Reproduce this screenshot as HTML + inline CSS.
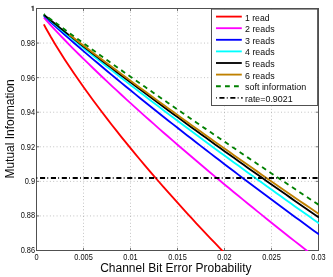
<!DOCTYPE html>
<html><head><meta charset="utf-8"><title>Mutual Information vs Channel Bit Error Probability</title>
<style>html,body{margin:0;padding:0;background:#fff;width:333px;height:277px;overflow:hidden}body{position:relative;font-family:"Liberation Sans",sans-serif}</style></head>
<body>
<svg width="333" height="277" viewBox="0 0 333 277" style="position:absolute;left:0;top:0;will-change:transform;font-family:'Liberation Sans',sans-serif">
<rect width="333" height="277" fill="#fff"/>
<defs><clipPath id="c"><rect x="36.0" y="8.0" width="283.0" height="243.0"/></clipPath></defs>
<path d="M83.50,250.5 V8.5 M130.50,250.5 V8.5 M177.50,250.5 V8.5 M224.50,250.5 V8.5 M271.50,250.5 V8.5 M36.5,215.93 H318.5 M36.5,181.36 H318.5 M36.5,146.79 H318.5 M36.5,112.21 H318.5 M36.5,77.64 H318.5 M36.5,43.07 H318.5" stroke="#a0a0a0" stroke-width="0.7" stroke-dasharray="0.9 2.45" fill="none"/>
<path d="M36.50,250.5 v-2.6 M36.50,8.5 v2.6 M83.50,250.5 v-2.6 M83.50,8.5 v2.6 M130.50,250.5 v-2.6 M130.50,8.5 v2.6 M177.50,250.5 v-2.6 M177.50,8.5 v2.6 M224.50,250.5 v-2.6 M224.50,8.5 v2.6 M271.50,250.5 v-2.6 M271.50,8.5 v2.6 M318.50,250.5 v-2.6 M318.50,8.5 v2.6 M36.5,250.50 h2.6 M318.5,250.50 h-2.6 M36.5,215.93 h2.6 M318.5,215.93 h-2.6 M36.5,181.36 h2.6 M318.5,181.36 h-2.6 M36.5,146.79 h2.6 M318.5,146.79 h-2.6 M36.5,112.21 h2.6 M318.5,112.21 h-2.6 M36.5,77.64 h2.6 M318.5,77.64 h-2.6 M36.5,43.07 h2.6 M318.5,43.07 h-2.6 M36.5,8.50 h2.6 M318.5,8.50 h-2.6" stroke="#505050" stroke-width="0.8" fill="none"/>
<rect x="36.5" y="8.5" width="282.0" height="242.0" fill="none" stroke="#505050" stroke-width="1"/>
<g clip-path="url(#c)" fill="none" stroke-linejoin="round">
<path d="M43.83,24.36 L45.90,28.22 L50.60,36.56 L55.30,44.48 L60.00,52.08 L64.70,59.43 L69.40,66.57 L74.10,73.53 L78.80,80.34 L83.50,87.00 L88.20,93.54 L92.90,99.97 L97.60,106.29 L102.30,112.51 L107.00,118.65 L111.70,124.70 L116.40,130.67 L121.10,136.57 L125.80,142.40 L130.50,148.16 L135.20,153.86 L139.90,159.49 L144.60,165.08 L149.30,170.60 L154.00,176.08 L158.70,181.50 L163.40,186.87 L168.10,192.20 L172.80,197.48 L177.50,202.72 L182.20,207.92 L186.90,213.08 L191.60,218.19 L196.30,223.27 L201.00,228.31 L205.70,233.32 L210.40,238.29 L215.10,243.22 L219.80,248.12 L224.50,252.99 L229.20,257.83 L233.90,262.63 L238.60,267.41 L243.30,272.15 L248.00,276.87 L252.70,281.56 L257.40,286.22 L262.10,290.85 L266.80,295.46 L271.50,300.04 L276.20,304.60 L280.90,309.13 L285.60,313.63 L290.30,318.12 L295.00,322.57 L299.70,327.01 L304.40,331.42 L309.10,335.81 L313.80,340.18 L318.50,344.52 L319.10,345.07" stroke="#ff0000" stroke-width="1.85"/>
<path d="M43.83,17.50 L45.90,19.86 L50.60,25.07 L55.30,30.15 L60.00,35.12 L64.70,40.00 L69.40,44.81 L74.10,49.55 L78.80,54.24 L83.50,58.87 L88.20,63.46 L92.90,68.01 L97.60,72.51 L102.30,76.98 L107.00,81.41 L111.70,85.81 L116.40,90.18 L121.10,94.52 L125.80,98.83 L130.50,103.12 L135.20,107.38 L139.90,111.61 L144.60,115.82 L149.30,120.01 L154.00,124.17 L158.70,128.32 L163.40,132.44 L168.10,136.55 L172.80,140.63 L177.50,144.70 L182.20,148.75 L186.90,152.78 L191.60,156.79 L196.30,160.79 L201.00,164.77 L205.70,168.73 L210.40,172.68 L215.10,176.61 L219.80,180.53 L224.50,184.43 L229.20,188.32 L233.90,192.19 L238.60,196.05 L243.30,199.90 L248.00,203.73 L252.70,207.55 L257.40,211.36 L262.10,215.15 L266.80,218.93 L271.50,222.70 L276.20,226.46 L280.90,230.20 L285.60,233.94 L290.30,237.66 L295.00,241.37 L299.70,245.07 L304.40,248.76 L309.10,252.43 L313.80,256.10 L318.50,259.76 L319.10,260.22" stroke="#ff00ff" stroke-width="1.85"/>
<path d="M43.83,15.73 L45.90,17.68 L50.60,22.04 L55.30,26.33 L60.00,30.56 L64.70,34.74 L69.40,38.88 L74.10,42.99 L78.80,47.06 L83.50,51.11 L88.20,55.12 L92.90,59.11 L97.60,63.08 L102.30,67.02 L107.00,70.95 L111.70,74.85 L116.40,78.74 L121.10,82.61 L125.80,86.46 L130.50,90.29 L135.20,94.11 L139.90,97.91 L144.60,101.70 L149.30,105.47 L154.00,109.23 L158.70,112.97 L163.40,116.71 L168.10,120.43 L172.80,124.13 L177.50,127.83 L182.20,131.51 L186.90,135.18 L191.60,138.84 L196.30,142.49 L201.00,146.13 L205.70,149.76 L210.40,153.38 L215.10,156.98 L219.80,160.58 L224.50,164.17 L229.20,167.75 L233.90,171.31 L238.60,174.87 L243.30,178.42 L248.00,181.96 L252.70,185.50 L257.40,189.02 L262.10,192.53 L266.80,196.04 L271.50,199.53 L276.20,203.02 L280.90,206.50 L285.60,209.98 L290.30,213.44 L295.00,216.90 L299.70,220.34 L304.40,223.79 L309.10,227.22 L313.80,230.64 L318.50,234.06 L319.10,234.50" stroke="#0000ff" stroke-width="1.85"/>
<path d="M43.83,15.05 L45.90,16.84 L50.60,20.86 L55.30,24.83 L60.00,28.76 L64.70,32.66 L69.40,36.52 L74.10,40.37 L78.80,44.18 L83.50,47.98 L88.20,51.75 L92.90,55.51 L97.60,59.25 L102.30,62.97 L107.00,66.67 L111.70,70.37 L116.40,74.04 L121.10,77.71 L125.80,81.36 L130.50,85.00 L135.20,88.62 L139.90,92.23 L144.60,95.84 L149.30,99.43 L154.00,103.01 L158.70,106.58 L163.40,110.14 L168.10,113.69 L172.80,117.23 L177.50,120.76 L182.20,124.28 L186.90,127.79 L191.60,131.30 L196.30,134.79 L201.00,138.28 L205.70,141.75 L210.40,145.22 L215.10,148.68 L219.80,152.14 L224.50,155.58 L229.20,159.02 L233.90,162.45 L238.60,165.87 L243.30,169.28 L248.00,172.69 L252.70,176.09 L257.40,179.48 L262.10,182.87 L266.80,186.25 L271.50,189.62 L276.20,192.99 L280.90,196.34 L285.60,199.70 L290.30,203.04 L295.00,206.38 L299.70,209.71 L304.40,213.04 L309.10,216.36 L313.80,219.67 L318.50,222.98 L319.10,223.40" stroke="#00ffff" stroke-width="1.85"/>
<path d="M43.83,14.72 L45.90,16.43 L50.60,20.28 L55.30,24.09 L60.00,27.87 L64.70,31.62 L69.40,35.35 L74.10,39.05 L78.80,42.74 L83.50,46.40 L88.20,50.05 L92.90,53.69 L97.60,57.31 L102.30,60.92 L107.00,64.51 L111.70,68.09 L116.40,71.66 L121.10,75.22 L125.80,78.76 L130.50,82.30 L135.20,85.82 L139.90,89.34 L144.60,92.84 L149.30,96.34 L154.00,99.82 L158.70,103.30 L163.40,106.77 L168.10,110.23 L172.80,113.68 L177.50,117.12 L182.20,120.56 L186.90,123.99 L191.60,127.41 L196.30,130.82 L201.00,134.22 L205.70,137.62 L210.40,141.01 L215.10,144.39 L219.80,147.77 L224.50,151.14 L229.20,154.50 L233.90,157.85 L238.60,161.20 L243.30,164.54 L248.00,167.88 L252.70,171.21 L257.40,174.53 L262.10,177.85 L266.80,181.16 L271.50,184.46 L276.20,187.76 L280.90,191.05 L285.60,194.34 L290.30,197.62 L295.00,200.90 L299.70,204.16 L304.40,207.43 L309.10,210.69 L313.80,213.94 L318.50,217.19 L319.10,217.60" stroke="#000000" stroke-width="1.85"/>
<path d="M69.21,34.53 L69.40,34.68 L74.10,38.30 L78.80,41.91 L83.50,45.50 L88.20,49.08 L92.90,52.65 L97.60,56.20 L102.30,59.74 L107.00,63.26 L111.70,66.78 L116.40,70.28 L121.10,73.78 L125.80,77.26 L130.50,80.74 L135.20,84.20 L139.90,87.66 L144.60,91.11 L149.30,94.54 L154.00,97.98 L158.70,101.40 L163.40,104.81 L168.10,108.22 L172.80,111.62 L177.50,115.01 L182.20,118.39 L186.90,121.77 L191.60,125.14 L196.30,128.50 L201.00,131.86 L205.70,135.20 L210.40,138.55 L215.10,141.88 L219.80,145.21 L224.50,148.54 L229.20,151.85 L233.90,155.16 L238.60,158.47 L243.30,161.77 L248.00,165.06 L252.70,168.34 L257.40,171.63 L262.10,174.90 L266.80,178.17 L271.50,181.43 L276.20,184.69 L280.90,187.94 L285.60,191.19 L290.30,194.43 L295.00,197.67 L299.70,200.90 L304.40,204.13 L309.10,207.35 L313.80,210.56 L318.50,213.77 L319.10,214.18" stroke="#bf8000" stroke-width="1.85"/>
<path d="M43.83,14.09 L45.90,15.64 L50.60,19.15 L55.30,22.64 L60.00,26.10 L64.70,29.55 L69.40,32.99 L74.10,36.41 L78.80,39.82 L83.50,43.22 L88.20,46.61 L92.90,49.99 L97.60,53.36 L102.30,56.72 L107.00,60.07 L111.70,63.42 L116.40,66.75 L121.10,70.08 L125.80,73.40 L130.50,76.72 L135.20,80.02 L139.90,83.32 L144.60,86.61 L149.30,89.90 L154.00,93.18 L158.70,96.45 L163.40,99.72 L168.10,102.98 L172.80,106.24 L177.50,109.49 L182.20,112.73 L186.90,115.97 L191.60,119.21 L196.30,122.44 L201.00,125.66 L205.70,128.88 L210.40,132.09 L215.10,135.29 L219.80,138.50 L224.50,141.69 L229.20,144.89 L233.90,148.07 L238.60,151.26 L243.30,154.43 L248.00,157.61 L252.70,160.78 L257.40,163.94 L262.10,167.10 L266.80,170.25 L271.50,173.40 L276.20,176.55 L280.90,179.69 L285.60,182.83 L290.30,185.96 L295.00,189.09 L299.70,192.21 L304.40,195.33 L309.10,198.45 L313.80,201.56 L318.50,204.67 L319.10,205.07" stroke="#008000" stroke-width="1.85" stroke-dasharray="4.8 4.2" stroke-dashoffset="3.5"/>
<path d="M36.5,177.98 H319.0" stroke="#000" stroke-width="1.85" stroke-dasharray="5.1 2.3 0.8 2.7" stroke-dashoffset="7.3999999999999995"/>
</g>
<text x="20.63" y="252.60" font-size="9.4" fill="#0a0a0a" textLength="14.42" lengthAdjust="spacingAndGlyphs">0.86</text>
<text x="20.63" y="218.25" font-size="9.4" fill="#0a0a0a" textLength="14.42" lengthAdjust="spacingAndGlyphs">0.88</text>
<text x="24.75" y="183.89" font-size="9.4" fill="#0a0a0a" textLength="10.30" lengthAdjust="spacingAndGlyphs">0.9</text>
<text x="20.63" y="149.54" font-size="9.4" fill="#0a0a0a" textLength="14.42" lengthAdjust="spacingAndGlyphs">0.92</text>
<text x="20.63" y="115.18" font-size="9.4" fill="#0a0a0a" textLength="14.42" lengthAdjust="spacingAndGlyphs">0.94</text>
<text x="20.63" y="80.83" font-size="9.4" fill="#0a0a0a" textLength="14.42" lengthAdjust="spacingAndGlyphs">0.96</text>
<text x="20.63" y="46.47" font-size="9.4" fill="#0a0a0a" textLength="14.42" lengthAdjust="spacingAndGlyphs">0.98</text>
<path d="M33.55,5.8 L33.55,10.9 L32.5,10.9 L32.5,7.35 L31.15,7.35 L31.15,6.65 C32.0,6.65 32.6,6.4 32.8,5.8 Z" fill="#0a0a0a"/>
<text x="34.44" y="260.1" font-size="9.4" fill="#0a0a0a" textLength="4.12" lengthAdjust="spacingAndGlyphs">0</text>
<text x="74.23" y="260.1" font-size="9.4" fill="#0a0a0a" textLength="18.54" lengthAdjust="spacingAndGlyphs">0.005</text>
<text x="123.29" y="260.1" font-size="9.4" fill="#0a0a0a" textLength="14.42" lengthAdjust="spacingAndGlyphs">0.01</text>
<text x="168.23" y="260.1" font-size="9.4" fill="#0a0a0a" textLength="18.54" lengthAdjust="spacingAndGlyphs">0.015</text>
<text x="217.29" y="260.1" font-size="9.4" fill="#0a0a0a" textLength="14.42" lengthAdjust="spacingAndGlyphs">0.02</text>
<text x="262.23" y="260.1" font-size="9.4" fill="#0a0a0a" textLength="18.54" lengthAdjust="spacingAndGlyphs">0.025</text>
<text x="311.29" y="260.1" font-size="9.4" fill="#0a0a0a" textLength="14.42" lengthAdjust="spacingAndGlyphs">0.03</text>
<text x="100.2" y="271.8" font-size="12" fill="#0a0a0a" textLength="151.4" lengthAdjust="spacingAndGlyphs">Channel Bit Error Probability</text>
<text transform="translate(13.5,178.6) rotate(-90)" font-size="12" fill="#0a0a0a" textLength="99.4" lengthAdjust="spacingAndGlyphs">Mutual Information</text>
<rect x="211.5" y="9.1" width="106.10000000000002" height="96.4" fill="#fff" stroke="#505050" stroke-width="1"/>
<path d="M216.0,16.60 H241.8" stroke="#ff0000" stroke-width="1.85"/>
<text x="245.0" y="20.60" font-size="9.3" fill="#0a0a0a" textLength="24.6" lengthAdjust="spacingAndGlyphs">1 read</text>
<path d="M216.0,28.20 H241.8" stroke="#ff00ff" stroke-width="1.85"/>
<text x="245.0" y="32.20" font-size="9.3" fill="#0a0a0a" textLength="29.6" lengthAdjust="spacingAndGlyphs">2 reads</text>
<path d="M216.0,39.80 H241.8" stroke="#0000ff" stroke-width="1.85"/>
<text x="245.0" y="43.80" font-size="9.3" fill="#0a0a0a" textLength="29.6" lengthAdjust="spacingAndGlyphs">3 reads</text>
<path d="M216.0,51.40 H241.8" stroke="#00ffff" stroke-width="1.85"/>
<text x="245.0" y="55.40" font-size="9.3" fill="#0a0a0a" textLength="29.6" lengthAdjust="spacingAndGlyphs">4 reads</text>
<path d="M216.0,63.00 H241.8" stroke="#000000" stroke-width="1.85"/>
<text x="245.0" y="67.00" font-size="9.3" fill="#0a0a0a" textLength="29.6" lengthAdjust="spacingAndGlyphs">5 reads</text>
<path d="M216.0,74.60 H241.8" stroke="#bf8000" stroke-width="1.85"/>
<text x="245.0" y="78.60" font-size="9.3" fill="#0a0a0a" textLength="29.6" lengthAdjust="spacingAndGlyphs">6 reads</text>
<path d="M216.0,86.20 H241.8" stroke="#008000" stroke-width="1.85" stroke-dasharray="4.8 4.2"/>
<text x="245.0" y="90.20" font-size="9.3" fill="#0a0a0a" textLength="61.1" lengthAdjust="spacingAndGlyphs">soft information</text>
<path d="M216.0,97.80 H242.60000000000002" stroke="#000" stroke-width="1.85" stroke-dasharray="5.1 2.3 0.8 2.7" stroke-dashoffset="7.499999999999999"/>
<text x="245.0" y="101.80" font-size="9.3" fill="#0a0a0a" textLength="47.6" lengthAdjust="spacingAndGlyphs">rate=0.9021</text>
</svg>
</body></html>
